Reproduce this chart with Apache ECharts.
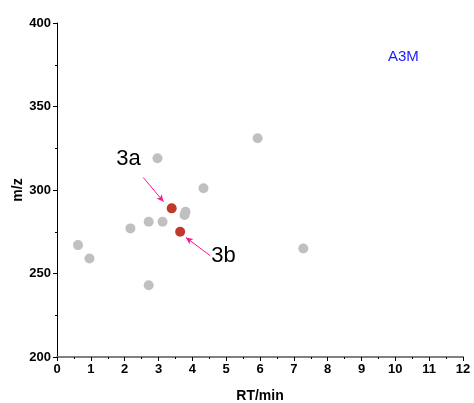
<!DOCTYPE html>
<html><head><meta charset="utf-8">
<script src="https://cdn.jsdelivr.net/npm/echarts@6/dist/echarts.min.js"></script>
<style>html,body{margin:0;padding:0;background:#fff}#c{width:474px;height:403px}</style>
</head><body><div id="c"></div>
<script>
// grey compounds: [RT, m/z]
const greyRT = [5.93, 2.97, 4.33, 3.80, 3.77, 2.71, 3.12, 2.17, 7.28, 2.71, 0.62, 0.96];
const greyMZ = [331, 319, 301, 287, 285, 281, 281, 277, 265, 243, 267, 259];
// highlighted compounds
const redNames = ['3a', '3b'];
const redRT = [3.39, 3.64];
const redMZ = [289, 275];
// label positions and arrow start/end (data units)
const labelRT = [2.11, 4.92];
const labelMZ = [318.6, 260.6];
const arrowFromRT = [2.55, 4.53];
const arrowFromMZ = [307.5, 260.6];
const arrowToRT = [3.15, 3.81];
const arrowToMZ = [293.0, 271.6];
const xTicks = [0,1,2,3,4,5,6,7,8,9,10,11,12];
const yTicks = [200,250,300,350,400];

const chart = echarts.init(document.getElementById('c'));
const font = 'Arial, Liberation Sans, sans-serif';
chart.setOption({
  animation: false,
  grid: {left: 57, right: 11, top: 23, bottom: 46, containLabel: false, outerBoundsMode: 'none'},
  xAxis: {
    type: 'value', min: xTicks[0], max: xTicks[xTicks.length-1], interval: 1,
    name: 'RT/min', nameLocation: 'middle', nameGap: 32, nameMoveOverlap: false,
    nameTextStyle: {fontFamily: font, fontWeight: 'bold', fontSize: 14, color: '#000'},
    axisLine: {onZero: false, lineStyle: {color: '#808080', width: 2}},
    axisTick: {show: true, length: 4, lineStyle: {color: '#000'}},
    minorTick: {show: true, splitNumber: 2, length: 2, lineStyle: {color: '#000'}},
    axisLabel: {fontFamily: font, fontWeight: 'bold', fontSize: 13, color: '#000', margin: 6},
    splitLine: {show: false}
  },
  yAxis: {
    type: 'value', min: yTicks[0], max: yTicks[yTicks.length-1], interval: 50,
    name: 'm/z', nameLocation: 'middle', nameGap: 32, nameRotate: 90, nameMoveOverlap: false,
    nameTextStyle: {fontFamily: font, fontWeight: 'bold', fontSize: 14, color: '#000'},
    axisLine: {show: true, onZero: false, lineStyle: {color: '#000', width: 1}},
    axisTick: {show: true, length: 4, lineStyle: {color: '#000'}},
    minorTick: {show: true, splitNumber: 2, length: 2, lineStyle: {color: '#000'}},
    axisLabel: {fontFamily: font, fontWeight: 'bold', fontSize: 13, color: '#000', margin: 6},
    splitLine: {show: false}
  },
  graphic: [{type: 'text', left: 388, top: 49,
    style: {text: 'A3M', fill: '#1a1aff', font: '15px ' + font}}],
  series: [
    {type: 'scatter', symbolSize: 10, itemStyle: {color: '#c0c0c0', opacity: 1},
     data: greyRT.map((x,i) => [x, greyMZ[i]])},
    {type: 'scatter', symbolSize: 10, itemStyle: {color: '#c0392b', opacity: 1},
     data: redRT.map((x,i) => [x, redMZ[i]]),
     markLine: {silent: true, symbol: ['none','arrow'], symbolSize: [5,7],
       label: {show: false},
       lineStyle: {color: '#ff1493', width: 1, type: 'solid', opacity: 1},
       data: arrowFromRT.map((x,i) => [{coord: [x, arrowFromMZ[i]]}, {coord: [arrowToRT[i], arrowToMZ[i]]}])}},
    {type: 'scatter', symbolSize: 0, silent: true, itemStyle: {opacity: 1},
     label: {show: true, position: 'inside', formatter: p => p.name,
       fontFamily: font, fontSize: 22, color: '#000', opacity: 1},
     data: labelRT.map((x,i) => ({name: redNames[i], value: [x, labelMZ[i]]}))}
  ]
});
</script></body></html>
